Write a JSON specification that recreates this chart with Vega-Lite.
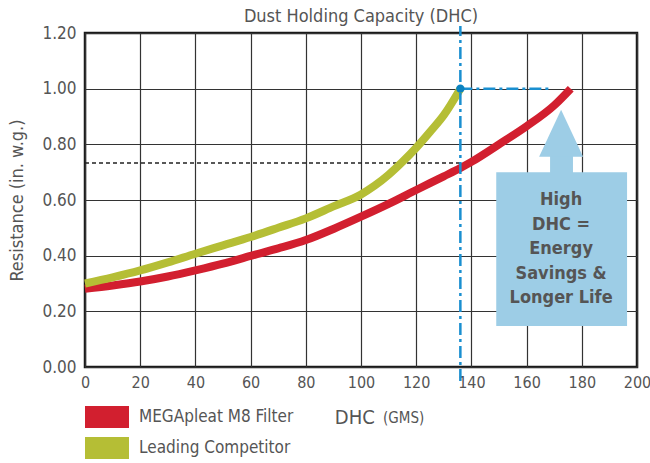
{
  "$schema": "https://vega.github.io/schema/vega-lite/v6.json",
  "width": 552,
  "height": 334,
  "autosize": {"type": "none"},
  "padding": {"top": 33, "left": 85, "right": 13, "bottom": 96},
  "background": "white",
  "config": {
    "font": "DejaVu Sans Condensed",
    "view": {"stroke": "#1a1a1a", "strokeWidth": 2.5},
    "axis": {
      "labelFont": "DejaVu Sans Condensed",
      "labelFontSize": 17,
      "labelColor": "#555555",
      "titleFont": "DejaVu Sans Condensed",
      "titleColor": "#555555",
      "titleFontWeight": "normal",
      "gridColor": "#333333",
      "gridWidth": 1.2,
      "gridOpacity": 1,
      "ticks": false,
      "domain": false
    }
  },
  "title": {
    "text": "Dust Holding Capacity (DHC)",
    "font": "DejaVu Sans Condensed",
    "fontSize": 18,
    "fontWeight": "normal",
    "color": "#555555",
    "anchor": "middle",
    "offset": -2
  },
  "datasets": {
    "curves": [
      {"series": "MEGApleat M8 Filter", "x": 0, "y": 0.281},
      {"series": "MEGApleat M8 Filter", "x": 10, "y": 0.293},
      {"series": "MEGApleat M8 Filter", "x": 20, "y": 0.307},
      {"series": "MEGApleat M8 Filter", "x": 30, "y": 0.325},
      {"series": "MEGApleat M8 Filter", "x": 40, "y": 0.347},
      {"series": "MEGApleat M8 Filter", "x": 50, "y": 0.371},
      {"series": "MEGApleat M8 Filter", "x": 60, "y": 0.399},
      {"series": "MEGApleat M8 Filter", "x": 70, "y": 0.426},
      {"series": "MEGApleat M8 Filter", "x": 80, "y": 0.456},
      {"series": "MEGApleat M8 Filter", "x": 90, "y": 0.496},
      {"series": "MEGApleat M8 Filter", "x": 100, "y": 0.54},
      {"series": "MEGApleat M8 Filter", "x": 110, "y": 0.586},
      {"series": "MEGApleat M8 Filter", "x": 120, "y": 0.636},
      {"series": "MEGApleat M8 Filter", "x": 130, "y": 0.685},
      {"series": "MEGApleat M8 Filter", "x": 136, "y": 0.715},
      {"series": "MEGApleat M8 Filter", "x": 140, "y": 0.737},
      {"series": "MEGApleat M8 Filter", "x": 150, "y": 0.8},
      {"series": "MEGApleat M8 Filter", "x": 160, "y": 0.865},
      {"series": "MEGApleat M8 Filter", "x": 170, "y": 0.94},
      {"series": "MEGApleat M8 Filter", "x": 176, "y": 1.0},
      {"series": "Leading Competitor", "x": 0, "y": 0.3},
      {"series": "Leading Competitor", "x": 10, "y": 0.322},
      {"series": "Leading Competitor", "x": 20, "y": 0.347},
      {"series": "Leading Competitor", "x": 30, "y": 0.376},
      {"series": "Leading Competitor", "x": 40, "y": 0.407},
      {"series": "Leading Competitor", "x": 50, "y": 0.437},
      {"series": "Leading Competitor", "x": 60, "y": 0.467},
      {"series": "Leading Competitor", "x": 70, "y": 0.5},
      {"series": "Leading Competitor", "x": 80, "y": 0.534},
      {"series": "Leading Competitor", "x": 90, "y": 0.577},
      {"series": "Leading Competitor", "x": 100, "y": 0.62},
      {"series": "Leading Competitor", "x": 105, "y": 0.652},
      {"series": "Leading Competitor", "x": 110, "y": 0.691},
      {"series": "Leading Competitor", "x": 115, "y": 0.737},
      {"series": "Leading Competitor", "x": 120, "y": 0.788},
      {"series": "Leading Competitor", "x": 125, "y": 0.845},
      {"series": "Leading Competitor", "x": 130, "y": 0.905},
      {"series": "Leading Competitor", "x": 136, "y": 1.0}
    ],
    "box": [{"x": 149, "x2": 196.4, "y": 0.147, "y2": 0.7}],
    "shaft": [{"x": 168.5, "x2": 176.8, "y": 0.69, "y2": 0.76}],
    "head": [{"x": 172.5, "y": 0.84}],
    "boxtext": [{"x": 172.5, "y": 0.6, "label": "High|DHC =|Energy|Savings &|Longer Life"}],
    "blackdash": [{"x": 0, "x2": 140, "y": 0.733}],
    "bluev": [{"x": 136, "y": -0.05, "y2": 1.225}],
    "blueh": [{"x": 136, "x2": 168, "y": 1.0}],
    "dot": [{"x": 136, "y": 1.0}],
    "dhc": [{"x": 90.5, "y": -0.183, "label": "DHC"}],
    "gms": [{"x": 108, "y": -0.183, "label": "(GMS)"}]
  },
  "encoding": {
    "x": {
      "field": "x",
      "type": "quantitative",
      "scale": {"domain": [0, 200], "nice": false, "zero": false},
      "axis": {"values": [0, 20, 40, 60, 80, 100, 120, 140, 160, 180, 200], "title": null, "labelPadding": 7, "labelFlush": false, "labelFontSize": 16, "labelBound": false}
    },
    "y": {
      "field": "y",
      "type": "quantitative",
      "scale": {"domain": [0, 1.2], "nice": false, "zero": false},
      "axis": {"values": [0, 0.2, 0.4, 0.6, 0.8, 1.0, 1.2], "format": ".2f", "title": "Resistance (in. w.g.)", "titleFontSize": 18, "titlePadding": 15, "labelPadding": 9, "labelFlush": false}
    }
  },
  "layer": [
    {
      "data": {"name": "box"},
      "mark": {"type": "rect", "fill": "#9dcde6"},
      "encoding": {"x2": {"field": "x2"}, "y2": {"field": "y2"}}
    },
    {
      "data": {"name": "shaft"},
      "mark": {"type": "rect", "fill": "#9dcde6"},
      "encoding": {"x2": {"field": "x2"}, "y2": {"field": "y2"}}
    },
    {
      "data": {"name": "head"},
      "mark": {"type": "point", "shape": "M0,-1.07L-1,1.07L1,1.07Z", "filled": true, "fill": "#9dcde6", "opacity": 1, "size": 1936, "strokeWidth": 0}
    },
    {
      "data": {"name": "boxtext"},
      "mark": {"type": "text", "lineBreak": "|", "fontSize": 18, "fontWeight": "bold", "color": "#555555", "align": "center", "baseline": "middle", "lineHeight": 24.5, "font": "DejaVu Sans Condensed"},
      "encoding": {"text": {"field": "label"}}
    },
    {
      "data": {"name": "blackdash"},
      "mark": {"type": "rule", "color": "#222222", "strokeWidth": 1.5, "strokeDash": [4, 3]},
      "encoding": {"x2": {"field": "x2"}}
    },
    {
      "data": {"name": "curves"},
      "mark": {"type": "line", "interpolate": "monotone", "strokeWidth": 8, "strokeCap": "butt"},
      "encoding": {
        "color": {
          "field": "series",
          "type": "nominal",
          "scale": {"domain": ["MEGApleat M8 Filter", "Leading Competitor"], "range": ["#d21f2f", "#b5be35"]},
          "legend": {
            "title": null,
            "orient": "none",
            "legendX": 11,
            "legendY": 373,
            "direction": "vertical",
            "symbolType": "M-2,-1H2V1H-2Z",
            "symbolSize": 484,
            "symbolStrokeWidth": 0,
            "labelFont": "DejaVu Sans Condensed",
            "labelFontSize": 17,
            "labelColor": "#555555",
            "labelLimit": 400,
            "labelOffset": 21,
            "rowPadding": 9,
            "encode": {"symbols": {"update": {"strokeWidth": {"value": 0}, "fill": {"scale": "color", "field": "value"}, "fillOpacity": {"value": 1}, "opacity": {"value": 1}}}}
          }
        }
      }
    },
    {
      "data": {"name": "bluev"},
      "mark": {"type": "rule", "color": "#1a8fd0", "strokeWidth": 2.5, "strokeDash": [12, 4, 3, 4]},
      "encoding": {"y2": {"field": "y2"}}
    },
    {
      "data": {"name": "blueh"},
      "mark": {"type": "rule", "color": "#1a8fd0", "strokeWidth": 2.5, "strokeDash": [12, 4, 3, 4]},
      "encoding": {"x2": {"field": "x2"}}
    },
    {
      "data": {"name": "dot"},
      "mark": {"type": "point", "filled": true, "color": "#0a82c0", "opacity": 1, "size": 70}
    },
    {
      "data": {"name": "dhc"},
      "mark": {"type": "text", "fontSize": 20, "color": "#555555", "align": "left", "baseline": "middle", "font": "DejaVu Sans Condensed"},
      "encoding": {"text": {"field": "label"}}
    },
    {
      "data": {"name": "gms"},
      "mark": {"type": "text", "fontSize": 15, "color": "#555555", "align": "left", "baseline": "middle", "font": "DejaVu Sans Condensed"},
      "encoding": {"text": {"field": "label"}}
    }
  ]
}
